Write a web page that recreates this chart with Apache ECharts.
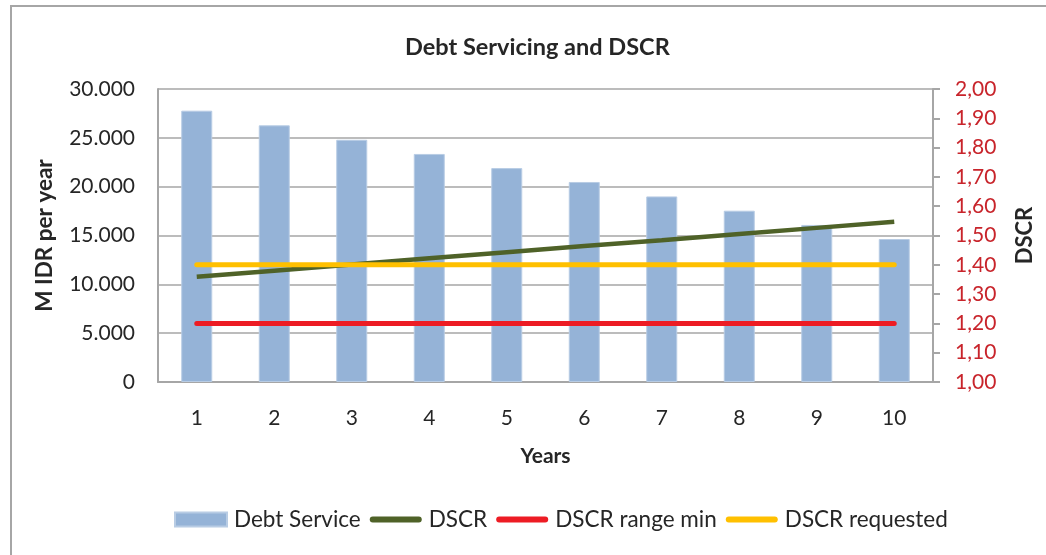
<!DOCTYPE html>
<html><head><meta charset="utf-8">
<script src="https://cdn.jsdelivr.net/npm/echarts@6/dist/echarts.min.js"></script>
<style>html,body{margin:0;padding:0;background:#fff}#c{width:1046px;height:555px}</style>
</head><body><div id="c"></div>
<script>
const years = ['1','2','3','4','5','6','7','8','9','10'];
const debtService = [27780, 26280, 24800, 23350, 21900, 20480, 19000, 17540, 16080, 14640];
const dscr = [1.359, 1.380, 1.401, 1.422, 1.443, 1.464, 1.484, 1.505, 1.526, 1.547];
const dscrRangeMin = [1.20, 1.20, 1.20, 1.20, 1.20, 1.20, 1.20, 1.20, 1.20, 1.20];
const dscrRequested = [1.40, 1.40, 1.40, 1.40, 1.40, 1.40, 1.40, 1.40, 1.40, 1.40];

const FONT = 'Lato';
const TXT = '#262626';
const GRAY = '#A6A6A6';
const LINE_ICON = 'path://M0,0 M52,14 M3,4 L49,4 A3,3 0 0 1 49,10 L3,10 A3,3 0 0 1 3,4 Z';
const chart = echarts.init(document.getElementById('c'), null, {renderer: 'canvas'});
chart.setOption({
  animation: false,
  backgroundColor: '#fff',
  textStyle: {fontFamily: FONT, color: TXT},
  graphic: [{
    type: 'rect', shape: {x: 11, y: 6, width: 1200, height: 700},
    style: {fill: 'none', stroke: GRAY, lineWidth: 2}, silent: true
  }],
  title: {
    text: 'Debt Servicing and DSCR', left: 400, top: 30,
    textStyle: {fontFamily: FONT, fontWeight: 'bold', fontSize: 23.5, color: TXT}
  },
  legend: {
    top: 503, left: 169, itemWidth: 52, itemHeight: 14, itemGap: 9,
    symbolKeepAspect: false,
    textStyle: {fontFamily: FONT, fontSize: 22.5, color: TXT, padding: [0, 0, 0, 2]},
    data: [
      {name: 'Debt Service', icon: 'rect'},
      {name: 'DSCR', icon: LINE_ICON},
      {name: 'DSCR range min', icon: LINE_ICON},
      {name: 'DSCR requested', icon: LINE_ICON}
    ]
  },
  grid: {left: 158, right: 113, top: 89, bottom: 173, containLabel: false},
  xAxis: {
    type: 'category', data: years, boundaryGap: true,
    name: 'Years', nameLocation: 'middle', nameGap: 64,
    nameTextStyle: {fontFamily: FONT, fontWeight: 'bold', fontSize: 21, color: TXT},
    axisLine: {show: true, lineStyle: {color: GRAY, width: 2}},
    axisTick: {show: false},
    axisLabel: {fontFamily: FONT, fontSize: 21, color: TXT, margin: 26}
  },
  yAxis: [{
    type: 'value', min: 0, max: 30000, interval: 5000, position: 'left',
    name: 'M IDR per year', nameLocation: 'middle', nameGap: 102,
    nameTextStyle: {fontFamily: FONT, fontWeight: 'bold', fontSize: 22.5, color: TXT},
    axisLine: {show: true, lineStyle: {color: GRAY, width: 2}},
    axisTick: {show: false},
    splitLine: {show: true, lineStyle: {color: GRAY, width: 1.5}},
    axisLabel: {fontFamily: FONT, fontSize: 21, color: TXT, margin: 23,
      formatter: v => v === 0 ? '0' : String(v).replace(/\B(?=(\d{3})+(?!\d))/g, '.')}
  }, {
    type: 'value', min: 1, max: 2, interval: 0.1, position: 'right',
    name: 'DSCR', nameLocation: 'middle', nameGap: 81,
    nameTextStyle: {fontFamily: FONT, fontWeight: 'bold', fontSize: 22, color: TXT},
    axisLine: {show: true, lineStyle: {color: GRAY, width: 2}},
    axisTick: {show: true, inside: false, length: 7, lineStyle: {color: GRAY, width: 2}},
    splitLine: {show: false},
    axisLabel: {fontFamily: FONT, fontSize: 21, color: '#C8242B', margin: 22,
      formatter: v => v.toFixed(2).replace('.', ',')}
  }],
  series: [{
    name: 'Debt Service', type: 'bar', data: debtService, barWidth: '40%',
    itemStyle: {color: '#95B3D7', borderColor: '#B8CCE4', borderWidth: 1}
  }, {
    name: 'DSCR', type: 'line', yAxisIndex: 1, data: dscr, symbol: 'none',
    lineStyle: {color: '#4F6228', width: 4.5}, itemStyle: {color: '#4F6228'}
  }, {
    name: 'DSCR range min', type: 'line', yAxisIndex: 1, data: dscrRangeMin, symbol: 'none',
    lineStyle: {color: '#ED1C24', width: 5, cap: 'round'}, itemStyle: {color: '#ED1C24'}
  }, {
    name: 'DSCR requested', type: 'line', yAxisIndex: 1, data: dscrRequested, symbol: 'none',
    lineStyle: {color: '#FFC000', width: 5, cap: 'round'}, itemStyle: {color: '#FFC000'}
  }]
});
</script></body></html>
